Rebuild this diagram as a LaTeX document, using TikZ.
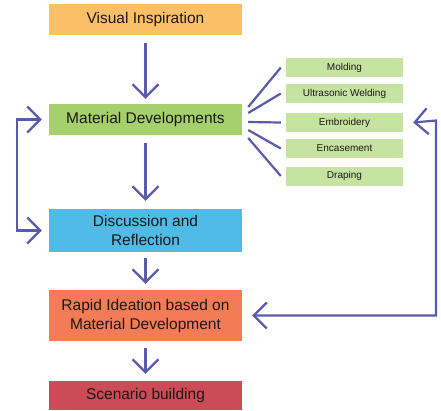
\documentclass[tikz,border=0pt]{standalone}
\usepackage{fontspec}
\setmainfont{Liberation Sans}
\usetikzlibrary{arrows.meta}
\definecolor{cVis}{HTML}{FBBF68}
\definecolor{cMat}{HTML}{A5D06B}
\definecolor{cDis}{HTML}{51BBE8}
\definecolor{cRap}{HTML}{F37B55}
\definecolor{cSce}{HTML}{CC4B57}
\definecolor{cSub}{HTML}{C6E3A1}
\definecolor{cLine}{HTML}{5A5AAD}
\definecolor{cTxt}{HTML}{1A1A1A}
\tikzset{
  mainbox/.style={draw=none, minimum width=193pt, inner sep=0pt, align=center, text=cTxt, font=\fontsize{15.5}{19}\selectfont},
  subbox/.style={fill=cSub, minimum width=117pt, minimum height=19pt, inner sep=0pt, text=cTxt, font=\fontsize{10}{12}\selectfont},
  arr/.style={draw=cLine, line width=2.2pt, -{Straight Barb[length=13pt,width=26pt,line width=2.2pt]}},
  darr/.style={draw=cLine, line width=2.2pt, {Straight Barb[length=13pt,width=26pt,line width=2.2pt]}-{Straight Barb[length=13pt,width=26pt,line width=2.2pt]}},
  fan/.style={draw=cLine, line width=2.2pt}
}
\begin{document}
\begin{tikzpicture}[x=1pt,y=-1pt]
\useasboundingbox (0,0) rectangle (441,410);
\node[mainbox, fill=cVis, minimum height=31pt] (vis) at (145.5,19.5) {Visual Inspiration};
\node[mainbox, fill=cMat, minimum height=31pt] (mat) at (145.5,119.5) {Material Developments};
\node[mainbox, fill=cDis, minimum height=43pt] (dis) at (145.5,230.5) {Discussion and\\Reflection};
\node[mainbox, fill=cRap, minimum height=51pt] (rap) at (145.5,315.5) {Rapid Ideation based on\\Material Development};
\node[mainbox, fill=cSce, minimum height=29pt] (sce) at (145.5,395.5) {Scenario building};

\node[subbox] (mol) at (344.5,67.5) {Molding};
\node[subbox] (ult) at (344.5,93.5) {Ultrasonic Welding};
\node[subbox] (emb) at (344.5,122.5) {Embroidery};
\node[subbox] (enc) at (344.5,148.5) {Encasement};
\node[subbox] (dra) at (344.5,176) {Draping};

\draw[arr, shorten <=8pt, shorten >=5pt] (vis.south) -- (mat.north);
\draw[arr, shorten <=8pt, shorten >=8pt] (mat.south) -- (dis.north);
\draw[arr, shorten <=6pt, shorten >=6pt] (dis.south) -- (rap.north);
\draw[arr, shorten <=7pt, shorten >=7pt] (rap.south) -- (sce.north);

\coordinate (L) at (17,0);
\coordinate (R) at (436,0);
\draw[darr] ([xshift=-7pt]mat.west) -- (mat.west -| L) -- (dis.west -| L) -- ([xshift=-7pt]dis.west);
\draw[darr] ([xshift=10pt]emb.east) -- ([yshift=2pt]emb.east -| R) -- (rap.east -| R) -- ([xshift=10pt]rap.east);

\draw[fan] ([shift={(6pt,12.5pt)}]mat.east) -- ([xshift=-5pt]mol.west);
\draw[fan] ([shift={(6pt,6.5pt)}]mat.east) -- ([xshift=-5pt]ult.west);
\draw[fan] ([shift={(6pt,-2.5pt)}]mat.east) -- ([xshift=-5pt]emb.west);
\draw[fan] ([shift={(6pt,-10.5pt)}]mat.east) -- ([xshift=-5pt]enc.west);
\draw[fan] ([shift={(6pt,-18.5pt)}]mat.east) -- ([xshift=-5pt]dra.west);
\end{tikzpicture}
\end{document}
